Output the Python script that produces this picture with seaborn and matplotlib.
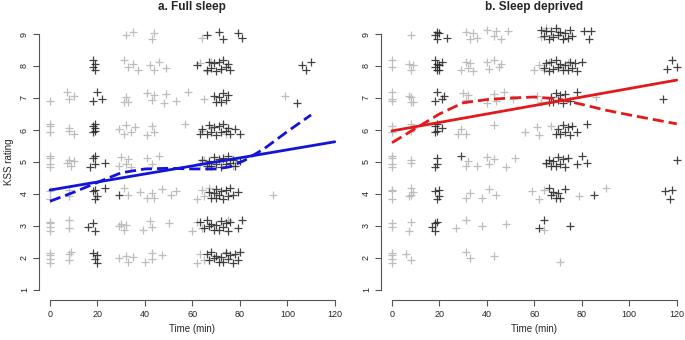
import numpy as np
import pandas as pd
import matplotlib
matplotlib.use("Agg")
import matplotlib.pyplot as plt
import seaborn as sns

# KSS ratings (1-9) by time (min); each list holds the times of the observations at that rating
full_gray = {
    9: [32, 35, 43, 44, 64],
    8: [31, 33, 35, 37, 42, 44, 46, 49, 63, 66, 68, 72],
    7: [0, 7, 8, 10, 31, 32, 33, 41, 43, 44, 48, 49, 53, 58, 65, 99],
    6: [0, 0, 0, 8, 8, 10, 29, 31, 32, 34, 36, 41, 43, 44, 57, 64, 68, 74],
    5: [0, 0, 0, 0, 7, 8, 9, 10, 29, 30, 32, 33, 34, 41, 43, 46, 63, 65, 67, 73, 77],
    4: [0, 0, 8, 8, 31, 33, 38, 41, 43, 44, 47, 51, 53, 62, 64, 65, 67, 94],
    3: [0, 0, 0, 0, 8, 8, 29, 30, 31, 32, 39, 42, 43, 50, 60, 62, 64, 75],
    2: [0, 0, 0, 0, 8, 8, 9, 29, 32, 33, 35, 40, 43, 43, 47, 62, 63, 65, 74],
}
full_black = {
    9: [66, 71, 73, 79, 81],
    8: [18, 18, 19, 19, 62, 66, 67, 68, 69, 70, 71, 72, 73, 74, 75, 76, 106, 108, 110],
    7: [18, 20, 22, 69, 70, 71, 72, 73, 74, 75, 104],
    6: [18, 18, 19, 19, 19, 63, 64, 66, 67, 68, 69, 70, 71, 72, 73, 74, 75, 76, 78, 80],
    5: [17, 18, 19, 19, 23, 64, 66, 67, 68, 69, 70, 71, 72, 73, 74, 75, 76, 77, 78, 80],
    4: [18, 19, 19, 20, 23, 29, 67, 68, 69, 70, 70, 71, 72, 73, 74, 75, 76, 77, 79],
    3: [16, 18, 19, 63, 65, 66, 67, 68, 69, 70, 71, 72, 73, 74, 75, 76, 79, 81],
    2: [18, 19, 20, 20, 66, 67, 68, 69, 70, 71, 72, 73, 74, 75, 76, 77, 78, 79, 80],
}
dep_gray = {
    9: [8, 31, 33, 34, 36, 40, 43, 44, 46, 49, 63, 65, 67, 70, 72],
    8: [0, 0, 7, 8, 9, 29, 31, 32, 33, 34, 40, 41, 43, 45, 46, 60, 62, 64, 66, 70, 74],
    7: [0, 0, 0, 7, 8, 8, 9, 30, 31, 32, 40, 43, 44, 47, 51, 61, 63, 86],
    6: [0, 0, 8, 8, 9, 28, 29, 31, 43, 56, 61, 62, 67],
    5: [0, 0, 0, 0, 8, 8, 31, 32, 36, 40, 41, 43, 48, 52, 65],
    4: [0, 0, 0, 7, 8, 8, 9, 31, 33, 38, 41, 44, 59, 62, 64, 79, 90],
    3: [0, 0, 7, 8, 27, 31, 38, 48, 64],
    2: [0, 0, 0, 0, 6, 8, 31, 33, 43, 71],
}
dep_black = {
    9: [18, 19, 19, 20, 23, 63, 64, 65, 66, 67, 68, 69, 70, 71, 72, 73, 74, 75, 76, 81, 83, 84],
    8: [18, 18, 19, 19, 20, 20, 21, 64, 65, 66, 67, 68, 69, 70, 71, 72, 73, 74, 75, 76, 77, 78, 80, 116, 118, 120],
    7: [18, 19, 21, 22, 66, 67, 68, 69, 70, 71, 72, 73, 75, 78, 114],
    6: [18, 18, 19, 19, 21, 69, 70, 71, 72, 73, 74, 75, 76, 78, 82],
    5: [18, 19, 19, 29, 65, 66, 67, 68, 69, 70, 71, 72, 73, 74, 78, 80, 82, 120],
    4: [18, 19, 20, 20, 66, 67, 68, 69, 70, 71, 73, 85, 115, 117, 118],
    3: [17, 18, 18, 19, 62, 64, 75],
}

# fitted lines
lin_time = [0, 120]
full_linear = [4.12, 5.63]
dep_linear = [5.97, 7.56]
full_smooth_time = [0, 10, 20, 30, 40, 50, 60, 70, 76, 82, 90, 100, 110]
full_smooth = [3.77, 4.05, 4.36, 4.66, 4.78, 4.80, 4.78, 4.78, 4.85, 5.05, 5.40, 5.95, 6.47]
dep_smooth_time = [0, 10, 20, 30, 40, 50, 60, 70, 80, 90, 100, 110, 120]
dep_smooth = [5.60, 6.05, 6.50, 6.85, 6.95, 7.00, 7.03, 6.97, 6.80, 6.62, 6.47, 6.33, 6.19]

# vertical jitter used for display only (ratings are integers)
jitter_pattern = [0.02, -0.12, 0.14, -0.05, 0.08, -0.17, 0.11, -0.08, 0.18, -0.02, 0.05, -0.14]


def to_frame(gray, black):
    rows = []
    for grp, d in (("gray", gray), ("black", black)):
        for rating, times in d.items():
            for i, t in enumerate(times):
                rows.append((t, rating + jitter_pattern[(i + rating) % len(jitter_pattern)], grp))
    return pd.DataFrame(rows, columns=["time", "kss", "group"])


sns.set_style("ticks")
plt.rcParams["font.family"] = ["Liberation Sans", "DejaVu Sans"]

fig = plt.figure(figsize=(6.85, 3.4), dpi=100)
ax1 = fig.add_axes([0.0564, 0.1176, 0.449, 0.8124])
ax2 = fig.add_axes([0.5556, 0.1176, 0.449, 0.8124])

panels = [
    (ax1, full_gray, full_black, full_linear, full_smooth_time, full_smooth, "#1414d8", "a. Full sleep"),
    (ax2, dep_gray, dep_black, dep_linear, dep_smooth_time, dep_smooth, "#e31a1c", "b. Sleep deprived"),
]

for ax, gray, black, lin, st, sm, col, title in panels:
    df = to_frame(gray, black)
    sns.scatterplot(data=df[df.group == "gray"], x="time", y="kss", marker="+",
                    color="#bdbdbd", s=32, linewidth=0.9, ax=ax, legend=False, zorder=2)
    sns.scatterplot(data=df[df.group == "black"], x="time", y="kss", marker="+",
                    color="#222222", s=32, linewidth=0.9, alpha=0.85, ax=ax, legend=False, zorder=3)
    sns.lineplot(x=lin_time, y=lin, color=col, linewidth=2.0, ax=ax, zorder=4)
    line = sns.lineplot(x=st, y=sm, color=col, linewidth=2.0, ax=ax, zorder=4).lines[-1]
    line.set_dashes((4, 1.8))

    ax.set_xlim(-4.8, 124.8)
    ax.set_ylim(0.68, 9.32)
    ax.set_xticks([0, 20, 40, 60, 80, 100, 120])
    ax.set_yticks(range(1, 10))
    sns.despine(ax=ax)
    ax.spines["left"].set_bounds(1, 9)
    ax.spines["bottom"].set_bounds(0, 120)
    for s in ("left", "bottom"):
        ax.spines[s].set_color("#555555")
        ax.spines[s].set_linewidth(0.8)
    ax.tick_params(length=4, width=0.8, color="#555555", labelsize=6.5, pad=3)
    ax.tick_params(axis="y", labelrotation=90)
    for lab in ax.get_yticklabels():
        lab.set_va("center")
    ax.set_xlabel("Time (min)", fontsize=7, labelpad=4)
    ax.set_ylabel("")
    ax.set_title(title, fontsize=8.5, fontweight="bold", pad=10)

ax1.set_ylabel("KSS rating", fontsize=7, labelpad=4)

fig.savefig("out.png", dpi=100)
